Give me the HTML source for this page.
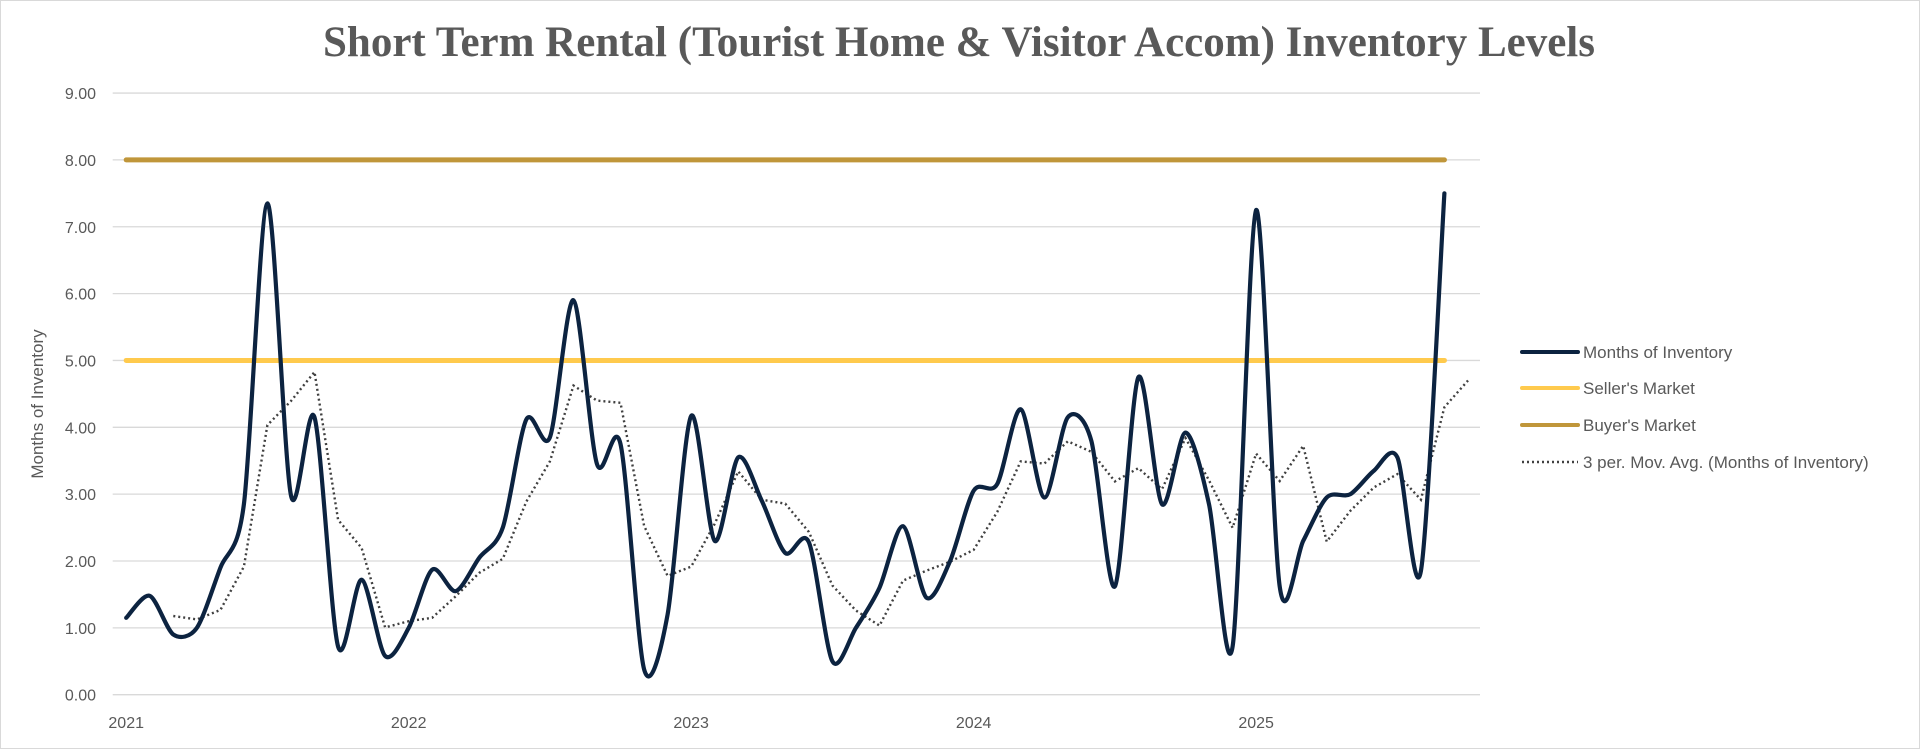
<!DOCTYPE html>
<html><head><meta charset="utf-8"><style>
html,body{margin:0;padding:0;background:#fff;}
svg{display:block;font-family:"Liberation Sans",sans-serif;}
</style></head><body>
<svg id="chart" width="1920" height="749" viewBox="0 0 1920 749">
<rect x="0.5" y="0.5" width="1919" height="748" fill="#fff" stroke="#d9d9d9"/>
<text x="959" y="56" text-anchor="middle" font-family="'Liberation Serif',serif" font-weight="bold" font-size="43" fill="#595959">Short Term Rental (Tourist Home &amp; Visitor Accom) Inventory Levels</text>
<text transform="translate(43,404) rotate(-90)" text-anchor="middle" font-size="17" fill="#595959">Months of Inventory</text>
<g id="grid"></g><g id="yticks"></g><g id="xticks"></g><g id="series"></g>
<g>
 <g><line x1="1522" y1="352" x2="1578" y2="352" stroke="#0c2340" stroke-width="4" stroke-linecap="round"/><text x="1583" y="358" font-size="17" fill="#595959">Months of Inventory</text></g>
 <g><line x1="1522" y1="388" x2="1578" y2="388" stroke="#ffca4d" stroke-width="4" stroke-linecap="round"/><text x="1583" y="394" font-size="17" fill="#595959">Seller's Market</text></g>
 <g><line x1="1522" y1="425" x2="1578" y2="425" stroke="#c0963a" stroke-width="4" stroke-linecap="round"/><text x="1583" y="431" font-size="17" fill="#595959">Buyer's Market</text></g>
 <g><line x1="1522" y1="462" x2="1578" y2="462" stroke="#404040" stroke-width="2.4" stroke-dasharray="2,3"/><text x="1583" y="468" font-size="17" fill="#595959">3 per. Mov. Avg. (Months of Inventory)</text></g>
</g>
</svg>
<script>
const yTicks=[0,1,2,3,4,5,6,7,8,9];
const yearLabels=["2021","2022","2023","2024","2025"];
const months=[1.15,1.48,0.9,1.0,1.9,2.85,7.35,2.98,4.15,0.72,1.72,0.58,1.0,1.87,1.55,2.05,2.5,4.12,3.85,5.9,3.45,3.75,0.38,1.2,4.17,2.3,3.55,2.9,2.12,2.28,0.5,1.0,1.6,2.52,1.45,2.0,3.05,3.15,4.27,2.95,4.15,3.8,1.62,4.75,2.85,3.92,2.85,0.72,7.25,1.62,2.3,2.95,3.0,3.35,3.55,1.85,7.5];
const sellerLevel=5;
const buyerLevel=8;
const maExtension=4.7;
const NS='http://www.w3.org/2000/svg';
const x=i=>126.2+23.54*i;
const y=v=>694.7-66.85*v;
function mk(tag,attrs,parent){const e=document.createElementNS(NS,tag);for(const k in attrs)e.setAttribute(k,attrs[k]);parent.appendChild(e);return e;}
const grid=document.getElementById('grid'),yt=document.getElementById('yticks'),xt=document.getElementById('xticks'),ser=document.getElementById('series');
yTicks.forEach(v=>{
 const l=mk('line',{x1:112.7,x2:1480,y1:y(v),y2:y(v),stroke:'#d9d9d9','stroke-width':1.3},grid);
 
 
 const t=mk('text',{x:96,y:y(v)+6,'text-anchor':'end','font-size':16,fill:'#595959'},yt);
 t.textContent=v.toFixed(2);
 
 
});
yearLabels.forEach((s,k)=>{
 const t=mk('text',{x:x(k*12),y:728,'text-anchor':'middle','font-size':16,fill:'#595959'},xt);
 t.textContent=s;
 
 
});
const last=months.length-1;
[[buyerLevel,'#c0963a','buyers-market-line'],[sellerLevel,'#ffca4d','sellers-market-line']].forEach(([v,c,n])=>{
 const l=mk('line',{x1:x(0),x2:x(last),y1:y(v),y2:y(v),stroke:c,'stroke-width':5,'stroke-linecap':'round'},ser);
 
 
});
const ma=[];
for(let i=2;i<months.length;i++)ma.push([i,(months[i]+months[i-1]+months[i-2])/3]);
ma.push([months.length,maExtension]);
const maPath=mk('path',{d:ma.map((p,k)=>(k?'L':'M')+x(p[0]).toFixed(1)+','+y(p[1]).toFixed(1)).join(''),fill:'none',stroke:'#404040','stroke-width':2.4,'stroke-dasharray':'2,3'},ser);


const P=months.map((v,i)=>[x(i),y(v)]);
const k=1/7;
let d='M'+P[0][0]+','+P[0][1];
for(let i=0;i<P.length-1;i++){
 const p0=P[Math.max(0,i-1)],p1=P[i],p2=P[i+1],p3=P[Math.min(P.length-1,i+2)];
 const c1=[p1[0]+(p2[0]-p0[0])*k,p1[1]+(p2[1]-p0[1])*k];
 const c2=[p2[0]-(p3[0]-p1[0])*k,p2[1]-(p3[1]-p1[1])*k];
 d+='C'+c1.map(n=>n.toFixed(1))+' '+c2.map(n=>n.toFixed(1))+' '+p2.map(n=>n.toFixed(1));
}
const main=mk('path',{d:d,fill:'none',stroke:'#0c2340','stroke-width':4.2,'stroke-linejoin':'round','stroke-linecap':'round'},ser);


</script>
</body></html>
